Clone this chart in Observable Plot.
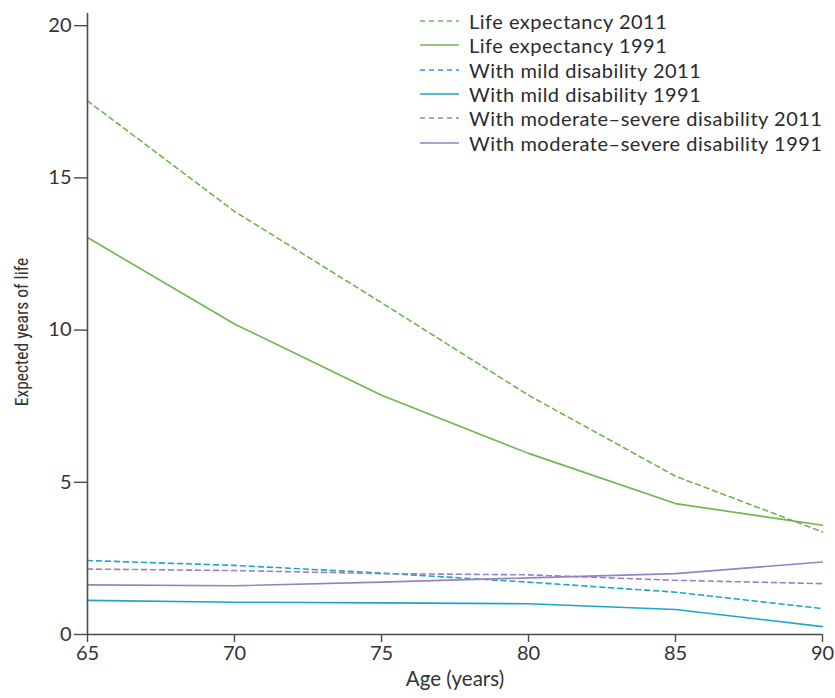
<!DOCTYPE html>
<html>
<head>
<meta charset="utf-8">
<script src="https://cdn.jsdelivr.net/npm/d3@7"></script>
<script src="https://cdn.jsdelivr.net/npm/@observablehq/plot@0.6"></script>
<style>
  html, body { margin: 0; padding: 0; background: #fff; }
  #wrap { position: relative; width: 835px; height: 698px; }
  #legend { position: absolute; left: 420px; top: 9px; font-family: Lato, sans-serif; font-size: 20px; letter-spacing: 0.5px; color: #2b2b2b; }
  .row { display: flex; align-items: center; height: 24.3px; line-height: 22px; white-space: nowrap; }
  .row span { line-height: 22px; display: inline-block; height: 22px; }
  .row svg { margin-right: 9px; flex: none; }
</style>
</head>
<body>
<div id="wrap"><div id="legend"></div></div>
<script>
const ages = [65, 70, 75, 80, 85, 90];
const seriesNames = [
  "Life expectancy 2011",
  "Life expectancy 1991",
  "With mild disability 2011",
  "With mild disability 1991",
  "With moderate\u2013severe disability 2011",
  "With moderate\u2013severe disability 1991"
];
const lifeExp2011 = [17.53, 13.9, 10.9, 7.86, 5.2, 3.37];
const lifeExp1991 = [13.04, 10.2, 7.86, 5.95, 4.3, 3.59];
const mild2011 = [2.43, 2.27, 2.02, 1.72, 1.39, 0.85];
const mild1991 = [1.12, 1.06, 1.04, 1.01, 0.82, 0.26];
const modsev2011 = [2.15, 2.1, 2.0, 1.96, 1.78, 1.67];
const modsev1991 = [1.63, 1.6, 1.72, 1.86, 2.0, 2.38];
const yTicks = [0, 5, 10, 15, 20];
const xTicks = [65, 70, 75, 80, 85, 90];

const GREEN = "#6db64e", CYAN = "#1ba5ca", PURPLE = "#9a80c0";
const styles = [
  {color: GREEN, dash: "5,4"},
  {color: GREEN, dash: null},
  {color: CYAN, dash: "5,4"},
  {color: CYAN, dash: null},
  {color: PURPLE, dash: "5,4"},
  {color: PURPLE, dash: null}
];
const values = [lifeExp2011, lifeExp1991, mild2011, mild1991, modsev2011, modsev1991];

const lineMarks = values.map((vals, i) => {
  const data = ages.map((a, j) => ({age: a, v: vals[j]}));
  return Plot.line(data, {
    x: "age", y: "v", stroke: styles[i].color, strokeWidth: 1.6,
    strokeDasharray: styles[i].dash || undefined
  });
});

const chart = Plot.plot({
  width: 835,
  height: 698,
  marginLeft: 87,
  marginRight: 13,
  marginTop: 13,
  marginBottom: 64,
  style: {fontFamily: "Lato, sans-serif", fontSize: "20px", color: "#333", background: "#fff"},
  x: {domain: [65, 90]},
  y: {domain: [0, 20.4]},
  marks: [
    ...lineMarks,
    Plot.ruleX([65], {y1: 0, y2: 20.4, stroke: "#4a4a4a", strokeWidth: 1.6}),
    Plot.ruleY([0], {stroke: "#4a4a4a", strokeWidth: 1.6}),
    Plot.axisY({ticks: yTicks, tickSize: 13, tickPadding: 3, label: null, stroke: "#4a4a4a", strokeWidth: 1.4, fill: "#333", fontSize: 20}),
    Plot.axisX({ticks: xTicks, tickSize: 8, tickPadding: 3, label: null, stroke: "#4a4a4a", strokeWidth: 1.4, fill: "#333", fontSize: 20}),
    Plot.text(["Expected years of life"], {frameAnchor: "left", textAnchor: "middle", rotate: -90, dx: -65, dy: 8, fontSize: 17.5, fill: "#333", fontFamily: "Liberation Sans Narrow, Roboto Condensed, sans-serif"}),
    Plot.text(["Age (years)"], {frameAnchor: "bottom", dy: 51, fontSize: 20.5, fill: "#333"})
  ]
});
document.getElementById("wrap").prepend(chart);

const legend = document.getElementById("legend");
seriesNames.forEach((name, i) => {
  const row = document.createElement("div");
  row.className = "row";
  const ns = "http://www.w3.org/2000/svg";
  const s = document.createElementNS(ns, "svg");
  s.setAttribute("width", "40"); s.setAttribute("height", "6");
  const l = document.createElementNS(ns, "line");
  l.setAttribute("x1", "0"); l.setAttribute("x2", "39"); l.setAttribute("y1", "3"); l.setAttribute("y2", "3");
  l.setAttribute("stroke", styles[i].color); l.setAttribute("stroke-width", "1.6");
  if (styles[i].dash) l.setAttribute("stroke-dasharray", styles[i].dash);
  s.appendChild(l);
  row.appendChild(s);
  const t = document.createElement("span");
  t.textContent = name;
  row.appendChild(t);
  legend.appendChild(row);
});
</script>
</body>
</html>
